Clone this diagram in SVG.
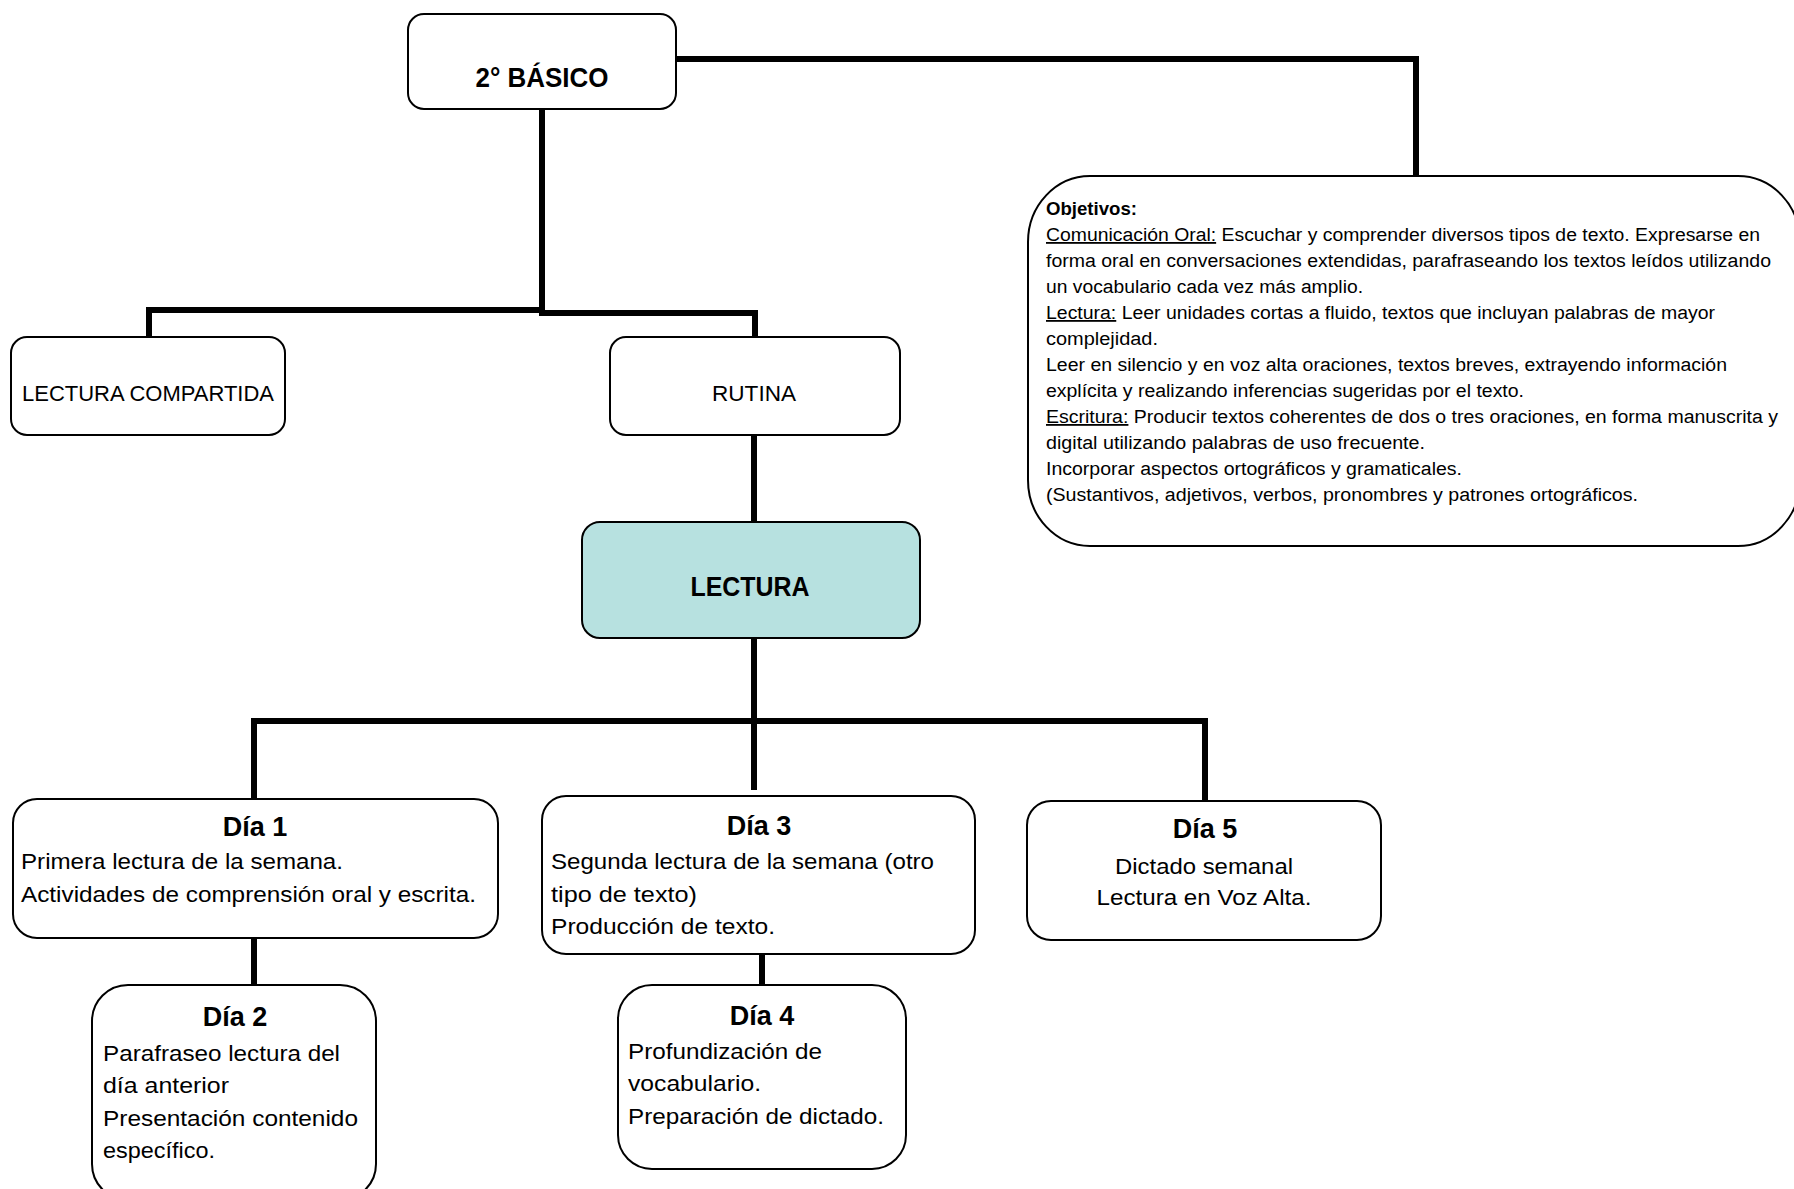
<svg xmlns="http://www.w3.org/2000/svg" width="1794" height="1189" viewBox="0 0 1794 1189">
<style>
.box{fill:#fff;stroke:#000;stroke-width:2}
.teal{fill:#b7e1e0}
.conn{fill:none;stroke:#000;stroke-width:6;stroke-linejoin:miter}
text{font-family:"Liberation Sans",Arial,sans-serif;fill:#000}
.t{font-size:27px;font-weight:bold;text-anchor:middle}
.n{font-size:22px}
.c{text-anchor:middle}
.o{font-size:18px}
.u{text-decoration:underline}
</style>
<rect width="1794" height="1189" fill="#fff"/>
<g id="connectors">
<path class="conn" d="M676 59 H1416 V176"/>
<path class="conn" d="M149 337 V310 H545"/>
<path class="conn" d="M542 109 V313 H755 V337"/>
<path class="conn" d="M754 435 V522"/>
<path class="conn" d="M754 638 V790"/>
<path class="conn" d="M254 799 V721 H1205 V801"/>
<path class="conn" d="M254 938 V985"/>
<path class="conn" d="M762 954 V985"/>
</g>
<g id="basico">
<rect class="box" x="408" y="14" width="268" height="95" rx="16"/>
<text class="t" x="542" y="87" textLength="133" lengthAdjust="spacingAndGlyphs">2° BÁSICO</text>
</g>
<g id="objetivos">
<rect class="box" x="1028" y="176" width="772" height="370" rx="62" ry="66"/>
<text class="o" x="1046" y="215" font-weight="bold" textLength="91" lengthAdjust="spacingAndGlyphs">Objetivos:</text>
<text class="o" x="1046" y="241" textLength="714" lengthAdjust="spacingAndGlyphs"><tspan class="u">Comunicación Oral:</tspan>  Escuchar y comprender diversos tipos de texto. Expresarse en</text>
<text class="o" x="1046" y="267" textLength="725" lengthAdjust="spacingAndGlyphs">forma oral en conversaciones extendidas, parafraseando los textos leídos utilizando</text>
<text class="o" x="1046" y="293" textLength="317" lengthAdjust="spacingAndGlyphs">un vocabulario cada vez más amplio.</text>
<text class="o" x="1046" y="319" textLength="669" lengthAdjust="spacingAndGlyphs"><tspan class="u">Lectura:</tspan> Leer unidades cortas a fluido, textos que incluyan palabras de mayor</text>
<text class="o" x="1046" y="345" textLength="112" lengthAdjust="spacingAndGlyphs">complejidad.</text>
<text class="o" x="1046" y="371" textLength="681" lengthAdjust="spacingAndGlyphs">Leer en silencio y en voz alta oraciones, textos breves, extrayendo información</text>
<text class="o" x="1046" y="397" textLength="478" lengthAdjust="spacingAndGlyphs">explícita y realizando inferencias sugeridas por el texto.</text>
<text class="o" x="1046" y="423" textLength="732" lengthAdjust="spacingAndGlyphs"><tspan class="u">Escritura:</tspan> Producir textos coherentes de dos o tres oraciones, en forma manuscrita y</text>
<text class="o" x="1046" y="449" textLength="379" lengthAdjust="spacingAndGlyphs">digital utilizando palabras de uso frecuente.</text>
<text class="o" x="1046" y="475" textLength="416" lengthAdjust="spacingAndGlyphs">Incorporar aspectos ortográficos y gramaticales.</text>
<text class="o" x="1046" y="501" textLength="592" lengthAdjust="spacingAndGlyphs">(Sustantivos, adjetivos, verbos, pronombres y patrones ortográficos.</text>
</g>
<g id="lectura-compartida">
<rect class="box" x="11" y="337" width="274" height="98" rx="16"/>
<text class="n c" x="148" y="401" textLength="252" lengthAdjust="spacingAndGlyphs">LECTURA COMPARTIDA</text>
</g>
<g id="rutina">
<rect class="box" x="610" y="337" width="290" height="98" rx="16"/>
<text class="n c" x="754" y="401" textLength="84" lengthAdjust="spacingAndGlyphs">RUTINA</text>
</g>
<g id="lectura">
<rect class="box teal" x="582" y="522" width="338" height="116" rx="18"/>
<text class="t" x="750" y="596" textLength="119" lengthAdjust="spacingAndGlyphs">LECTURA</text>
</g>
<g id="dia1">
<rect class="box" x="13" y="799" width="485" height="139" rx="24"/>
<text class="t" x="255" y="836">Día 1</text>
<text class="n" x="21" y="869" textLength="322" lengthAdjust="spacingAndGlyphs">Primera lectura de la semana.</text>
<text class="n" x="21" y="902" textLength="455" lengthAdjust="spacingAndGlyphs">Actividades de comprensión oral y escrita.</text>
</g>
<g id="dia3">
<rect class="box" x="542" y="796" width="433" height="158" rx="24"/>
<text class="t" x="759" y="835">Día 3</text>
<text class="n" x="551" y="869" textLength="383" lengthAdjust="spacingAndGlyphs">Segunda lectura de la semana (otro</text>
<text class="n" x="551" y="902" textLength="146" lengthAdjust="spacingAndGlyphs">tipo de texto)</text>
<text class="n" x="551" y="934" textLength="224" lengthAdjust="spacingAndGlyphs">Producción de texto.</text>
</g>
<g id="dia5">
<rect class="box" x="1027" y="801" width="354" height="139" rx="24"/>
<text class="t" x="1205" y="838">Día 5</text>
<text class="n c" x="1204" y="874" textLength="178" lengthAdjust="spacingAndGlyphs">Dictado semanal</text>
<text class="n c" x="1204" y="905" textLength="215" lengthAdjust="spacingAndGlyphs">Lectura en Voz Alta.</text>
</g>
<g id="dia2">
<rect class="box" x="92" y="985" width="284" height="215" rx="36"/>
<text class="t" x="235" y="1026">Día 2</text>
<text class="n" x="103" y="1061" textLength="237" lengthAdjust="spacingAndGlyphs">Parafraseo lectura del</text>
<text class="n" x="103" y="1093" textLength="126" lengthAdjust="spacingAndGlyphs">día anterior</text>
<text class="n" x="103" y="1126" textLength="255" lengthAdjust="spacingAndGlyphs">Presentación contenido</text>
<text class="n" x="103" y="1158" textLength="112" lengthAdjust="spacingAndGlyphs">específico.</text>
</g>
<g id="dia4">
<rect class="box" x="618" y="985" width="288" height="184" rx="34"/>
<text class="t" x="762" y="1025">Día 4</text>
<text class="n" x="628" y="1059" textLength="194" lengthAdjust="spacingAndGlyphs">Profundización de</text>
<text class="n" x="628" y="1091" textLength="133" lengthAdjust="spacingAndGlyphs">vocabulario.</text>
<text class="n" x="628" y="1124" textLength="256" lengthAdjust="spacingAndGlyphs">Preparación de dictado.</text>
</g>
</svg>
